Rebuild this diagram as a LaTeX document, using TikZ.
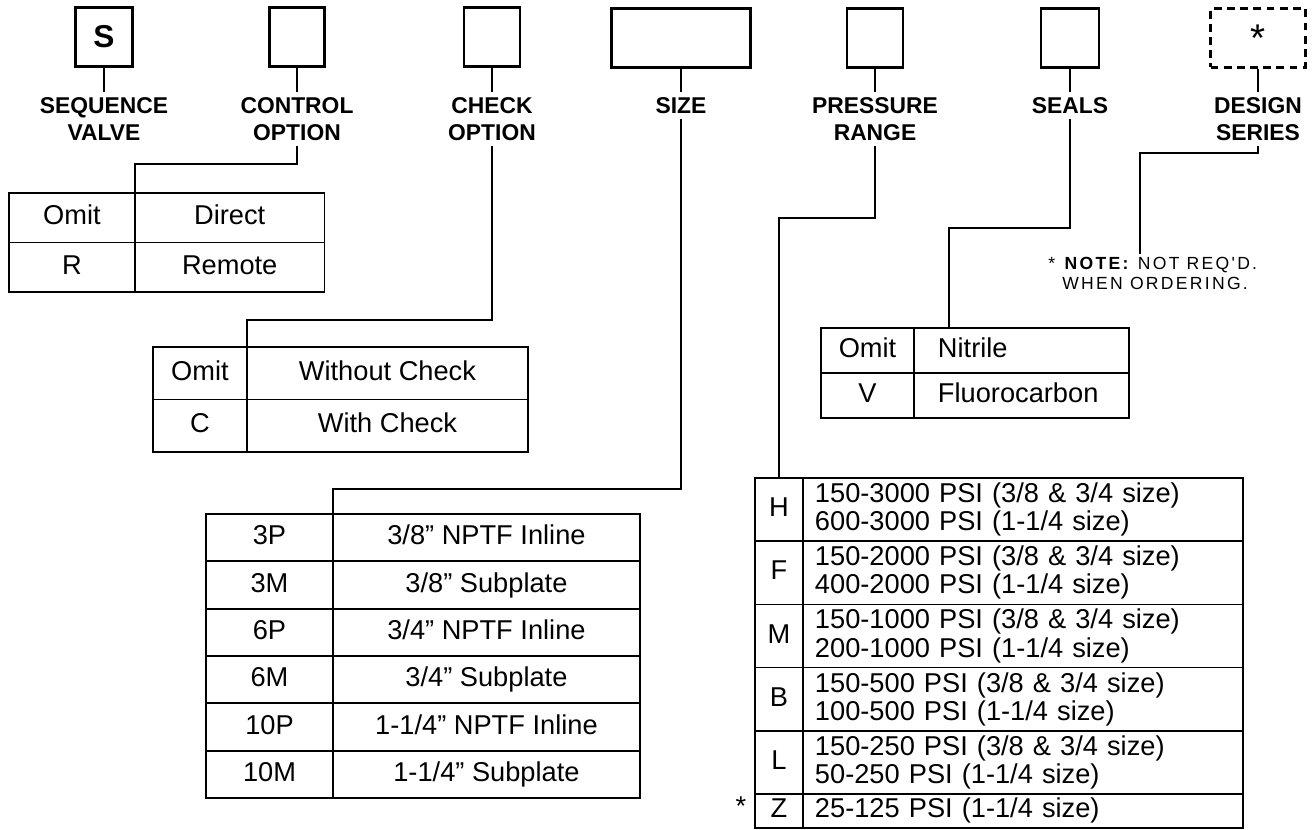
\documentclass[tikz,border=0pt]{standalone}
\usepackage{fontspec}
\setmainfont{Liberation Sans}
\newfontfamily\notefont{Liberation Sans}[LetterSpace=13]
\usetikzlibrary{calc,positioning}

\begin{document}
\begin{tikzpicture}[x=0.02cm,y=-0.02cm]
        \tikzstyle{codebox} = [rectangle, draw=black, line width=1.6pt, inner sep=0pt, minimum height=1.17cm]
        \tikzstyle{caption} = [anchor=north, align=center, inner sep=3pt, font=\fontsize{13}{15.3}\selectfont\bfseries]
        \tikzstyle{cell} = [rectangle, draw=black, line width=1pt, inner sep=0pt, outer sep=0pt, font=\fontsize{15.5}{16}\selectfont]
        \tikzstyle{entry} = [cell, text height=11.2pt, text depth=3.2pt]
        \tikzstyle{wire} = [line width=1.3pt]
        \tikzstyle{ctrl_code} = [entry, minimum width=2.52cm, minimum height=0.99cm]
        \tikzstyle{ctrl_text} = [entry, minimum width=3.79cm, minimum height=0.99cm]
        \tikzstyle{chk_code} = [entry, minimum width=1.88cm, minimum height=1.05cm]
        \tikzstyle{chk_text} = [entry, minimum width=5.62cm, minimum height=1.05cm]
        \tikzstyle{size_code} = [entry, minimum width=2.54cm, minimum height=0.947cm]
        \tikzstyle{size_text} = [entry, minimum width=6.14cm, minimum height=0.947cm]
        \tikzstyle{seal_code} = [entry, minimum width=1.86cm, minimum height=0.9cm]
        \tikzstyle{seal_text} = [entry, align=left, text width=3.34cm, inner xsep=0.48cm, minimum height=0.9cm]
        \tikzstyle{range_code} = [entry, minimum width=0.96cm, minimum height=1.264cm]
        \tikzstyle{range_text} = [cell, align=left, text width=8.32cm, inner xsep=0.24cm, minimum height=1.264cm]
        \useasboundingbox (0,0) rectangle (1312,829);

        \node (seq_box) [codebox, minimum width=1.14cm] at (104,37) {\fontsize{18}{18}\selectfont\bfseries S};
        \node (ctrl_box) [codebox, minimum width=1.1cm] at (297,37) {};
        \node (chk_box) [codebox, minimum width=1.12cm] at (492,37) {};
        \node (size_box) [codebox, minimum width=2.78cm] at (681,38) {};
        \node (press_box) [codebox, minimum width=1.12cm] at (875,38) {};
        \node (seal_box) [codebox, minimum width=1.16cm] at (1070,38) {};
        \node (design_box) [codebox, dash pattern=on 4.5pt off 3pt, minimum width=1.9cm] at (1258,38) {\fontsize{22}{22}\selectfont *};

        \node (seq_label) [caption] at (104,92) {SEQUENCE\\VALVE};
        \node (ctrl_label) [caption] at (297,92) {CONTROL\\OPTION};
        \node (chk_label) [caption] at (492,92) {CHECK\\OPTION};
        \node (size_label) [caption] at (681,92) {SIZE};
        \node (press_label) [caption] at (875,92) {PRESSURE\\RANGE};
        \node (seal_label) [caption] at (1070,92) {SEALS};
        \node (design_label) [caption] at (1258,92) {DESIGN\\SERIES};
        \draw[wire] (seq_box) -- (seq_label);
        \draw[wire] (ctrl_box) -- (ctrl_label);
        \draw[wire] (chk_box) -- (chk_label);
        \draw[wire] (size_box) -- (size_label);
        \draw[wire] (press_box) -- (press_label);
        \draw[wire] (seal_box) -- (seal_label);
        \draw[wire] (design_box) -- (design_label);

        \node (ctrl_omit) [ctrl_code, anchor=north west] at (9,193) {Omit};
        \node (ctrl_direct) [ctrl_text, right=0pt of ctrl_omit] {Direct};
        \node (ctrl_r) [ctrl_code, below=0pt of ctrl_omit] {R};
        \node (ctrl_remote) [ctrl_text, below=0pt of ctrl_direct] {Remote};
        \draw[wire] (ctrl_label.south) |- ($(ctrl_omit.north east)+(0,-29)$) -- (ctrl_omit.north east);

        \node (chk_omit) [chk_code, anchor=north west] at (153,347) {Omit};
        \node (chk_without) [chk_text, right=0pt of chk_omit] {Without Check};
        \node (chk_c) [chk_code, below=0pt of chk_omit] {C};
        \node (chk_with) [chk_text, below=0pt of chk_without] {With Check};
        \draw[wire] (chk_label.south) |- ($(chk_omit.north east)+(0,-27)$) -- (chk_omit.north east);

        \node (size_3p) [size_code, anchor=north west] at (206,514) {3P};
        \node (size_3p_txt) [size_text, right=0pt of size_3p] {3/8'' NPTF Inline};
        \node (size_3m) [size_code, below=0pt of size_3p] {3M};
        \node (size_3m_txt) [size_text, below=0pt of size_3p_txt] {3/8'' Subplate};
        \node (size_6p) [size_code, below=0pt of size_3m] {6P};
        \node (size_6p_txt) [size_text, below=0pt of size_3m_txt] {3/4'' NPTF Inline};
        \node (size_6m) [size_code, below=0pt of size_6p] {6M};
        \node (size_6m_txt) [size_text, below=0pt of size_6p_txt] {3/4'' Subplate};
        \node (size_10p) [size_code, below=0pt of size_6m] {10P};
        \node (size_10p_txt) [size_text, below=0pt of size_6m_txt] {1-1/4'' NPTF Inline};
        \node (size_10m) [size_code, below=0pt of size_10p] {10M};
        \node (size_10m_txt) [size_text, below=0pt of size_10p_txt] {1-1/4'' Subplate};
        \draw[wire] (size_label.south) |- ($(size_3p.north east)+(0,-25)$) -- (size_3p.north east);

        \node (seal_omit) [seal_code, anchor=north west] at (821,328) {Omit};
        \node (seal_nitrile) [seal_text, right=0pt of seal_omit] {Nitrile};
        \node (seal_v) [seal_code, below=0pt of seal_omit] {V};
        \node (seal_fluoro) [seal_text, below=0pt of seal_nitrile] {Fluorocarbon};
        \draw[wire] (seal_label.south) |- ($(seal_omit.north east)+(35,-100)$) -- ($(seal_omit.north east)+(35,0)$);

        \node (press_h) [range_code, anchor=north west] at (755,478) {H};
        \node (press_h_txt) [range_text, right=0pt of press_h] {150-3000 PSI (3/8 \& 3/4 size)\\600-3000 PSI (1-1/4 size)};
        \node (press_f) [range_code, below=0pt of press_h] {F};
        \node (press_f_txt) [range_text, below=0pt of press_h_txt] {150-2000 PSI (3/8 \& 3/4 size)\\400-2000 PSI (1-1/4 size)};
        \node (press_m) [range_code, below=0pt of press_f] {M};
        \node (press_m_txt) [range_text, below=0pt of press_f_txt] {150-1000 PSI (3/8 \& 3/4 size)\\200-1000 PSI (1-1/4 size)};
        \node (press_b) [range_code, below=0pt of press_m] {B};
        \node (press_b_txt) [range_text, below=0pt of press_m_txt] {150-500 PSI (3/8 \& 3/4 size)\\100-500 PSI (1-1/4 size)};
        \node (press_l) [range_code, below=0pt of press_b] {L};
        \node (press_l_txt) [range_text, below=0pt of press_b_txt] {150-250 PSI (3/8 \& 3/4 size)\\50-250 PSI (1-1/4 size)};
        \node (press_z) [range_code, below=0pt of press_l, minimum height=0.68cm] {Z};
        \node (press_z_txt) [range_text, below=0pt of press_l_txt, minimum height=0.68cm] {25-125 PSI (1-1/4 size)};
        \node (z_star) [font=\fontsize{15.5}{16}\selectfont] at (741,806) {*};
        \draw[wire] (press_label.south) |- ($(press_h.north)+(0,-260)$) -- (press_h.north);

        \node (note) [anchor=north west, align=left, inner sep=0pt, font=\notefont\fontsize{10}{11.3}\selectfont] at (1048,257) {* \textbf{NOTE:} NOT REQ'D.\\\phantom{* }WHEN ORDERING.};
        \coordinate (note_tip) at (1140,254);
        \draw[wire] (design_label.south) |- ($(note_tip)+(0,-101)$) -- (note_tip);
\end{tikzpicture}
\end{document}
